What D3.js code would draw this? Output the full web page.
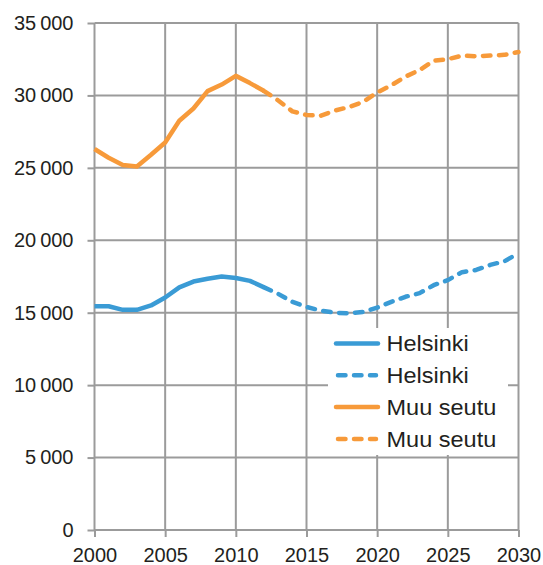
<!DOCTYPE html>
<html>
<head>
<meta charset="utf-8">
<script src="https://cdn.jsdelivr.net/npm/d3@7"></script>
<style>
  body { margin: 0; background: #fff; }
  text { font-family: "Liberation Sans", Arial, sans-serif; fill: #231f20; }
</style>
</head>
<body>
<div id="chart"></div>
<script>
const years = d3.range(2000, 2031);
const helsinki = [15450, 15450, 15200, 15200, 15500, 16050, 16750, 17150, 17350, 17500,
                  17400, 17200, 16750, 16300, 15750, 15400, 15150, 15000, 14950, 15050,
                  15350, 15750, 16100, 16350, 16900, 17250, 17800, 17950, 18300, 18550, 19100];
const muuSeutu = [26300, 25700, 25200, 25100, 25900, 26750, 28250, 29100, 30300, 30750,
                  31350, 30850, 30300, 29650, 28900, 28650, 28600, 28950, 29200, 29550,
                  30200, 30700, 31300, 31750, 32400, 32500, 32750, 32700, 32750, 32800, 33000];
const forecastStart = 2012;
const xTicks = [2000, 2005, 2010, 2015, 2020, 2025, 2030];
const yTicks = [0, 5000, 10000, 15000, 20000, 25000, 30000, 35000];
const legendItems = [
  { name: 'Helsinki', color: '#3a9bd5', dashed: false },
  { name: 'Helsinki', color: '#3a9bd5', dashed: true },
  { name: 'Muu seutu', color: '#f79a3a', dashed: false },
  { name: 'Muu seutu', color: '#f79a3a', dashed: true }
];

const width = 543;
const height = 565;
const gridColor = '#9b9b9b';
const dash = '7.5,8.5';

const svg = d3.select('#chart')
  .append('svg')
  .attr('width', width)
  .attr('height', height)

const xScale = d3.scaleLinear()
                 .domain([2000, 2030])
                 .range([94.5, 518.5])

const yScale = d3.scaleLinear()
                 .domain([0, 35000])
                 .range([530, 23])

const locale = d3.formatLocale({ decimal: ',', thousands: '\u2009', grouping: [3], currency: ['', ''] });
const fmt = locale.format(',d');

//Gridlines
svg.append('g')
   .selectAll('line')
   .data(yTicks)
   .enter()
   .append('line')
   .attr('x1', xScale(2000))
   .attr('x2', xScale(2030))
   .attr('y1', d => yScale(d))
   .attr('y2', d => yScale(d))
   .style('stroke', gridColor)
   .style('stroke-width', 2)

svg.append('g')
   .selectAll('line')
   .data(xTicks)
   .enter()
   .append('line')
   .attr('x1', d => xScale(d))
   .attr('x2', d => xScale(d))
   .attr('y1', yScale(35000))
   .attr('y2', yScale(0))
   .style('stroke', gridColor)
   .style('stroke-width', 2)

//Axes
const xAxis = d3.axisBottom(xScale).tickValues(xTicks).tickFormat(d3.format('d')).tickSize(7).tickPadding(11);
const yAxis = d3.axisLeft(yScale).tickValues(yTicks).tickFormat(fmt).tickSize(7).tickPadding(14);

const gx = svg.append('g')
   .attr('transform', 'translate(0,' + yScale(0) + ')')
   .call(xAxis)
const gy = svg.append('g')
   .attr('transform', 'translate(' + xScale(2000) + ',0)')
   .call(yAxis)

;[gx, gy].forEach(g => {
  g.select('.domain').remove();
  g.selectAll('line').style('stroke', gridColor).style('stroke-width', 2);
  g.selectAll('text').style('font-size', '20px').style('fill', '#231f20')
   .style('font-family', '"Liberation Sans", Arial, sans-serif');
});

//Lines
const line = d3.line()
  .x(d => xScale(d.year))
  .y(d => yScale(d.value))

const drawSeries = (values, color) => {
  const pts = years.map((y, i) => ({ year: y, value: values[i] }));
  svg.append('path')
     .datum(pts.filter(d => d.year <= forecastStart))
     .attr('d', line)
     .style('fill', 'none')
     .style('stroke', color)
     .style('stroke-width', 4.5)
     .style('stroke-linejoin', 'round')
  svg.append('path')
     .datum(pts.filter(d => d.year >= forecastStart))
     .attr('d', line)
     .style('fill', 'none')
     .style('stroke', color)
     .style('stroke-width', 4.5)
     .style('stroke-linecap', 'round')
     .style('stroke-linejoin', 'round')
     .style('stroke-dasharray', dash)
}

drawSeries(helsinki, legendItems[0].color);
drawSeries(muuSeutu, legendItems[2].color);

//Legend
const legend = svg.append('g')

legend.append('rect')
      .attr('x', 328)
      .attr('y', 328)
      .attr('width', 180)
      .attr('height', 127)
      .style('fill', '#fff')

const rows = legend.selectAll('g.row')
  .data(legendItems)
  .enter()
  .append('g')
  .attr('class', 'row')
  .attr('transform', (d, i) => 'translate(0,' + (343.5 + i * 31.8) + ')')

rows.append('line')
    .attr('x1', d => d.dashed ? 338 : 336)
    .attr('x2', d => d.dashed ? 376 : 378)
    .style('stroke', d => d.color)
    .style('stroke-width', 4.5)
    .style('stroke-linecap', 'round')
    .style('stroke-dasharray', d => d.dashed ? dash : null)

rows.append('text')
    .text(d => d.name)
    .attr('transform', 'translate(386.5,0) scale(1.12,1.04)')
    .attr('dy', '0.36em')
    .style('font-size', '21px')
</script>
</body>
</html>
